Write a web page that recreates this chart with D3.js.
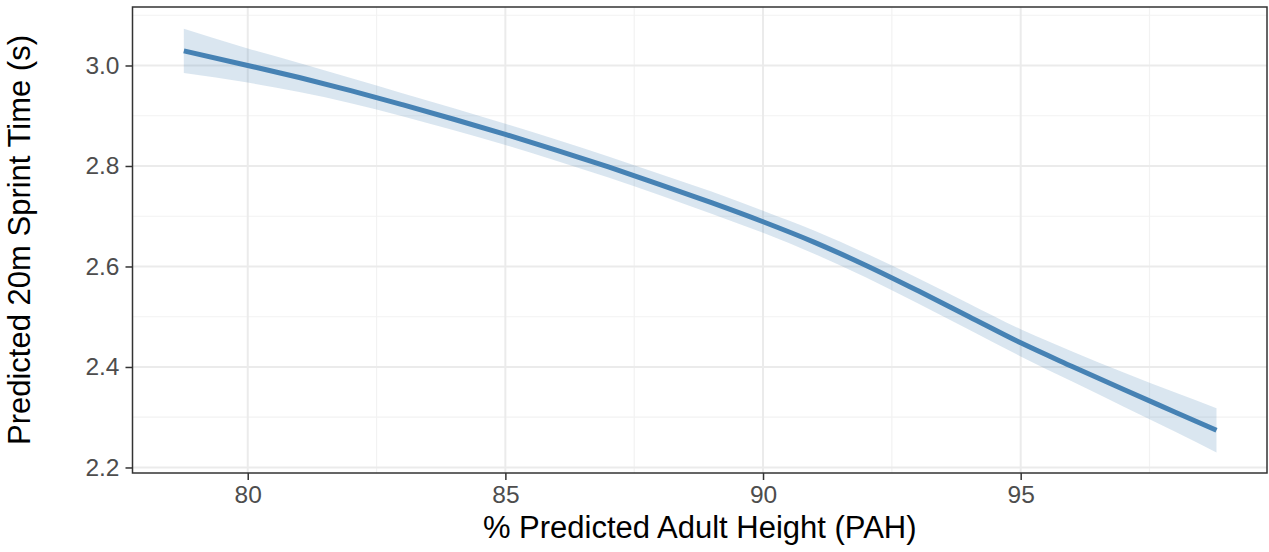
<!DOCTYPE html>
<html>
<head>
<meta charset="utf-8">
<script src="https://cdn.jsdelivr.net/npm/d3@7"></script>
<style>
  body { margin: 0; background: #fff; }
  svg { display: block; font-family: "Liberation Sans", Arial, sans-serif; }
</style>
</head>
<body>
<div></div>
<script>
// predicted curve
const pah = [78.76, 80, 81, 82, 83, 84, 85, 86, 87, 88, 89, 90, 91, 92, 93, 94, 95, 96, 97, 98, 98.8];
const sprint = [3.029, 3.0, 2.976, 2.95, 2.922, 2.893, 2.863, 2.831, 2.798, 2.763, 2.727, 2.689, 2.648, 2.602, 2.552, 2.5, 2.448, 2.401, 2.355, 2.31, 2.274];
const upper = [3.073, 3.034, 3.005, 2.975, 2.945, 2.915, 2.884, 2.852, 2.819, 2.784, 2.749, 2.711, 2.671, 2.626, 2.577, 2.526, 2.475, 2.431, 2.389, 2.349, 2.318];
const lower = [2.985, 2.966, 2.947, 2.925, 2.899, 2.871, 2.842, 2.81, 2.777, 2.742, 2.705, 2.667, 2.625, 2.578, 2.527, 2.474, 2.421, 2.371, 2.321, 2.271, 2.23];

const xTicks = [80, 85, 90, 95];
const xMinor = [82.5, 87.5, 92.5, 97.5];
const yTicks = [2.2, 2.4, 2.6, 2.8, 3.0];
const yMinor = [2.3, 2.5, 2.7, 2.9, 3.1];

const w = 1269;
const h = 552;
const pLeft = 132.5, pRight = 1267, pTop = 7, pBottom = 473;

const svg = d3.select("div").append("svg").attr("width", w).attr("height", h);

const xScale = d3.scaleLinear().domain([77.764, 99.78]).range([pLeft, pRight]);
const yScale = d3.scaleLinear().domain([2.189, 3.1164]).range([pBottom, pTop]);

const data = pah.map((x, i) => ({ x: x, y: sprint[i], lo: lower[i], hi: upper[i] }));

// grid
const grid = svg.append("g");
grid.selectAll(".xminor").data(xMinor).enter().append("line")
  .attr("x1", (d) => xScale(d)).attr("x2", (d) => xScale(d))
  .attr("y1", pTop).attr("y2", pBottom)
  .attr("stroke", "#f2f2f2").attr("stroke-width", 1.2);
grid.selectAll(".yminor").data(yMinor).enter().append("line")
  .attr("y1", (d) => yScale(d)).attr("y2", (d) => yScale(d))
  .attr("x1", pLeft).attr("x2", pRight)
  .attr("stroke", "#f2f2f2").attr("stroke-width", 1.2);
grid.selectAll(".xmajor").data(xTicks).enter().append("line")
  .attr("x1", (d) => xScale(d)).attr("x2", (d) => xScale(d))
  .attr("y1", pTop).attr("y2", pBottom)
  .attr("stroke", "#ebebeb").attr("stroke-width", 2);
grid.selectAll(".ymajor").data(yTicks).enter().append("line")
  .attr("y1", (d) => yScale(d)).attr("y2", (d) => yScale(d))
  .attr("x1", pLeft).attr("x2", pRight)
  .attr("stroke", "#ebebeb").attr("stroke-width", 2);

// ribbon and line
const area = d3.area()
  .x((d) => xScale(d.x))
  .y0((d) => yScale(d.lo))
  .y1((d) => yScale(d.hi))
  .curve(d3.curveMonotoneX);
svg.append("path").datum(data).attr("d", area)
  .attr("fill", "steelblue").attr("fill-opacity", 0.2);

const line = d3.line()
  .x((d) => xScale(d.x))
  .y((d) => yScale(d.y))
  .curve(d3.curveMonotoneX);
svg.append("path").datum(data).attr("d", line)
  .attr("fill", "none").attr("stroke", "steelblue").attr("stroke-width", 5);

// panel border
svg.append("rect")
  .attr("x", pLeft).attr("y", pTop)
  .attr("width", pRight - pLeft).attr("height", pBottom - pTop)
  .attr("fill", "none").attr("stroke", "#333").attr("stroke-width", 1.5);

// axes
const xAxis = d3.axisBottom(xScale).tickValues(xTicks).tickSize(7).tickPadding(6).tickFormat(d3.format("d"));
const gx = svg.append("g").attr("transform", "translate(0," + pBottom + ")").call(xAxis);
gx.select(".domain").remove();
gx.selectAll("line").attr("stroke", "#333").attr("stroke-width", 1.5);
gx.selectAll("text").attr("fill", "#4d4d4d").style("font-size", "24.5px");

const yAxis = d3.axisLeft(yScale).tickValues(yTicks).tickSize(7).tickPadding(6).tickFormat(d3.format(".1f"));
const gy = svg.append("g").attr("transform", "translate(" + pLeft + ",0)").call(yAxis);
gy.select(".domain").remove();
gy.selectAll("line").attr("stroke", "#333").attr("stroke-width", 1.5);
gy.selectAll("text").attr("fill", "#4d4d4d").style("font-size", "24.5px");

// titles
svg.append("text")
  .attr("x", (pLeft + pRight) / 2).attr("y", 538)
  .attr("text-anchor", "middle")
  .style("font-size", "31px")
  .text("% Predicted Adult Height (PAH)");
svg.append("text")
  .attr("transform", "translate(30," + (pTop + pBottom) / 2 + ") rotate(-90)")
  .attr("text-anchor", "middle")
  .style("font-size", "31px")
  .text("Predicted 20m Sprint Time (s)");
</script>
</body>
</html>
